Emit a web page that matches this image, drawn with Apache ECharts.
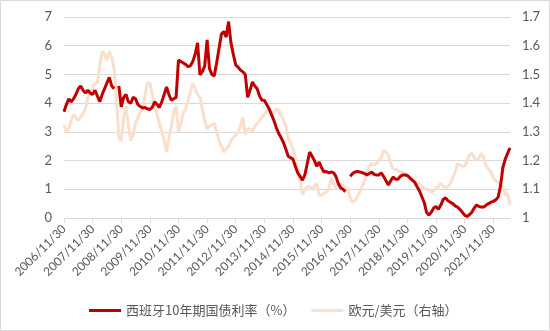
<!DOCTYPE html>
<html>
<head>
<meta charset="utf-8">
<script src="https://cdn.jsdelivr.net/npm/echarts@6/dist/echarts.min.js"></script>
<style>
  html, body { margin: 0; padding: 0; background: #fff; }
  #chart { width: 550px; height: 331px; }
</style>
</head>
<body>
<div id="chart"></div>
<script>
// Month-end observations, 2006/11 through 2022/06
const startYear = 2006;
const startMonth = 11;

// Spain 10-year government bond yield (%)
const spainYield = [
  3.70, 3.95, 4.15, 4.05, 4.15, 4.30, 4.50, 4.60, 4.45, 4.35, 4.45, 4.35,
  4.30, 4.45, 4.25, 4.05, 4.30, 4.50, 4.70, 4.90, 4.60, 4.50, null, 4.60,
  3.87, 4.20, 4.30, 4.05, 4.00, 4.20, 4.15, 3.95, 3.88, 3.83, 3.85, 3.80,
  3.78, 3.85, 4.05, 3.95, 3.85, 4.05, 4.30, 4.56, 4.30, 4.10, 4.15, 4.20,
  5.50, 5.45, 5.40, 5.35, 5.27, 5.30, 5.45, 5.70, 6.10, 4.98, 5.10, 5.30,
  6.20, 5.20, 5.00, 4.95, 5.40, 5.90, 6.40, 6.50, 6.30, 6.84, 6.10, 5.70,
  5.33, 5.25, 5.15, 5.09, 5.00, 4.20, 4.45, 4.74, 4.60, 4.50, 4.25, 4.10,
  4.10, 3.95, 3.80, 3.60, 3.40, 3.15, 2.95, 2.80, 2.63, 2.40, 2.15, 2.10,
  2.05, 1.80, 1.57, 1.45, 1.32, 1.50, 1.90, 2.30, 2.15, 2.00, 1.80, 1.95,
  1.75, 1.60, 1.62, 1.57, 1.60, 1.58, 1.45, 1.20, 1.05, 1.00, 0.92, null,
  1.45, 1.55, 1.60, 1.62, 1.60, 1.58, 1.55, 1.50, 1.55, 1.60, 1.52, 1.50,
  1.50, 1.57, 1.45, 1.30, 1.15, 1.30, 1.43, 1.35, 1.35, 1.45, 1.50, 1.50,
  1.48, 1.40, 1.32, 1.25, 1.10, 0.95, 0.75, 0.55, 0.20, 0.10, 0.20, 0.35,
  0.40, 0.30, 0.45, 0.65, 0.70, 0.60, 0.55, 0.50, 0.42, 0.38, 0.30, 0.20,
  0.10, 0.05, 0.12, 0.20, 0.35, 0.45, 0.40, 0.38, 0.38, 0.45, 0.50, 0.55,
  0.58, 0.63, 0.72, 1.10, 1.75, 2.05, 2.25, 2.44
];

// EUR/USD exchange rate (right axis)
const eurUsd = [
  1.324, 1.300, 1.310, 1.340, 1.360, 1.350, 1.340, 1.350, 1.365, 1.380, 1.420, 1.440,
  1.450, 1.470, 1.470, 1.530, 1.580, 1.570, 1.550, 1.580, 1.560, 1.520, 1.420, 1.280,
  1.270, 1.350, 1.390, 1.320, 1.270, 1.290, 1.330, 1.350, 1.370, 1.380, 1.430, 1.470,
  1.470, 1.430, 1.390, 1.360, 1.330, 1.300, 1.270, 1.230, 1.280, 1.320, 1.370, 1.390,
  1.300, 1.330, 1.365, 1.380, 1.410, 1.440, 1.470, 1.450, 1.430, 1.420, 1.380, 1.340,
  1.310, 1.320, 1.324, 1.330, 1.300, 1.270, 1.250, 1.230, 1.240, 1.250, 1.270, 1.280,
  1.290, 1.300, 1.320, 1.350, 1.290, 1.310, 1.310, 1.300, 1.320, 1.330, 1.340, 1.350,
  1.360, 1.370, 1.380, 1.370, 1.365, 1.380, 1.375, 1.360, 1.340, 1.320, 1.280, 1.260,
  1.240, 1.210, 1.170, 1.130, 1.080, 1.100, 1.110, 1.110, 1.100, 1.110, 1.120, 1.080,
  1.080, 1.085, 1.090, 1.100, 1.140, 1.120, 1.105, 1.110, 1.120, 1.115, 1.105, 1.100,
  1.070, 1.055, 1.060, 1.075, 1.090, 1.110, 1.130, 1.160, 1.180, 1.190, 1.185, 1.190,
  1.200, 1.210, 1.235, 1.230, 1.220, 1.190, 1.170, 1.170, 1.165, 1.160, 1.160, 1.155,
  1.145, 1.140, 1.135, 1.130, 1.120, 1.120, 1.110, 1.105, 1.100, 1.100, 1.090, 1.095,
  1.105, 1.110, 1.120, 1.110, 1.105, 1.110, 1.120, 1.140, 1.160, 1.190, 1.185, 1.180,
  1.180, 1.200, 1.220, 1.225, 1.210, 1.200, 1.210, 1.225, 1.210, 1.180, 1.170, 1.160,
  1.140, 1.130, 1.125, 1.115, 1.110, 1.080, 1.085, 1.045
];

const seriesNames = ['西班牙10年期国债利率（%）', '欧元/美元（右轴）'];
const leftTicks = { min: 0, max: 7, interval: 1 };
const rightTicks = { min: 1, max: 1.7, interval: 0.1 };

// Month-end date labels, e.g. 2006/11/30
const dates = [];
for (let k = 0; k < spainYield.length; k++) {
  const m0 = startMonth - 1 + k;
  const y = startYear + Math.floor(m0 / 12);
  const m = (m0 % 12) + 1;
  const last = new Date(y, m, 0).getDate();
  dates.push(y + '/' + m + '/' + last);
}

const textColor = '#595959';
const gridColor = '#d9d9d9';
const numFont = 'Lato, "Noto Sans", sans-serif';
const yearly = function (idx) { return idx % 12 === 0; };

const chart = echarts.init(document.getElementById('chart'), null, { renderer: 'canvas' });
chart.setOption({
  animation: false,
  backgroundColor: '#ffffff',
  graphic: [{
    type: 'rect',
    shape: { x: 0.5, y: 0.5, width: 549, height: 330 },
    style: { fill: 'none', stroke: gridColor, lineWidth: 1 },
    silent: true,
    z: -1
  }],
  grid: { left: 64, right: 40, top: 17, bottom: 113, containLabel: false },
  legend: {
    data: seriesNames,
    bottom: 9,
    left: 84,
    icon: 'rect',
    itemWidth: 32,
    itemHeight: 3,
    itemGap: 16,
    textStyle: { color: textColor, fontSize: 13, fontFamily: '"Noto Sans CJK SC", sans-serif' }
  },
  xAxis: {
    type: 'category',
    data: dates,
    boundaryGap: false,
    axisLine: { lineStyle: { color: gridColor, width: 1 } },
    axisTick: {
      show: true,
      length: 5,
      lineStyle: { color: gridColor },
      interval: yearly
    },
    axisLabel: {
      interval: yearly,
      rotate: 45,
      margin: 9,
      color: textColor,
      fontSize: 12,
      fontFamily: numFont
    },
    splitLine: { show: false }
  },
  yAxis: [{
    type: 'value',
    min: leftTicks.min,
    max: leftTicks.max,
    interval: leftTicks.interval,
    axisLine: { show: false },
    axisTick: { show: false },
    axisLabel: { color: textColor, fontSize: 13, margin: 12, fontFamily: numFont },
    splitLine: { lineStyle: { color: gridColor, width: 1 } }
  }, {
    type: 'value',
    min: rightTicks.min,
    max: rightTicks.max,
    interval: rightTicks.interval,
    axisLine: { show: false },
    axisTick: { show: false },
    axisLabel: {
      color: textColor,
      fontSize: 13,
      margin: 12,
      fontFamily: numFont,
      formatter: function (v) { return String(Math.round(v * 10) / 10); }
    },
    splitLine: { show: false }
  }],
  series: [{
    name: seriesNames[1],
    type: 'line',
    yAxisIndex: 1,
    data: eurUsd,
    showSymbol: false,
    symbol: 'none',
    lineStyle: { color: '#FADFCD', width: 3 },
    itemStyle: { color: '#FADFCD' },
    z: 2
  }, {
    name: seriesNames[0],
    type: 'line',
    yAxisIndex: 0,
    data: spainYield,
    showSymbol: false,
    symbol: 'none',
    connectNulls: false,
    lineStyle: { color: '#C00000', width: 3 },
    itemStyle: { color: '#C00000' },
    z: 3
  }]
});
</script>
</body>
</html>
